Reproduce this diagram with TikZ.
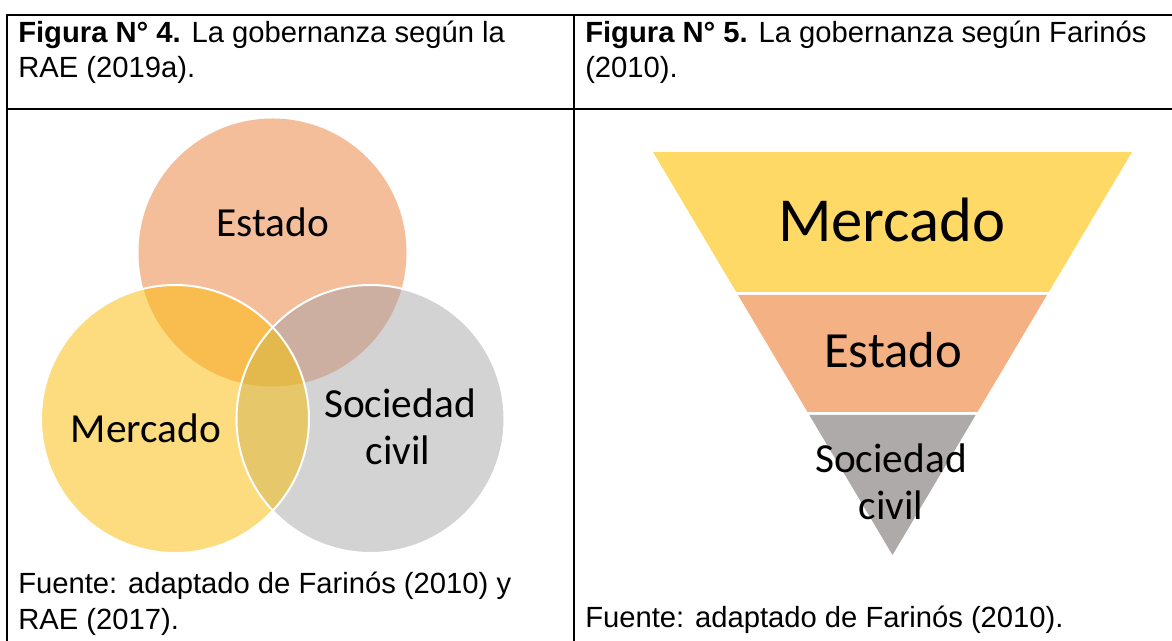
\documentclass[tikz,border=0pt]{standalone}
\usepackage{fontspec}
\setmainfont{Liberation Sans}
\newfontfamily\carl{Carlito}
\definecolor{cE}{HTML}{F5BE9A}
\definecolor{cM}{HTML}{FDDC80}
\definecolor{cS}{HTML}{D3D3D3}
\definecolor{cEM}{HTML}{F8BD4E}
\definecolor{cES}{HTML}{CCAFA0}
\definecolor{cMS}{HTML}{E6C86B}
\definecolor{cEMS}{HTML}{E3B84C}
\definecolor{pM}{HTML}{FFD966}
\definecolor{pE}{HTML}{F4B183}
\definecolor{pS}{HTML}{AEAAAA}
\tikzset{
  tbl/.style={line width=1.5pt, black},
  captxt/.style={inner sep=0pt, anchor=base west, font=\fontsize{21.9}{26}\selectfont},
  vlab/.style={inner sep=0pt, anchor=base, font=\carl\fontsize{31}{36}\selectfont},
  rim/.style={draw=white, line width=1.5pt},
}
\begin{document}
\begin{tikzpicture}[x=0.75pt, y=-0.75pt]
\useasboundingbox (0,0) rectangle (1172,641);
% table
\coordinate (tl) at (7,15);
\coordinate (bl) at (7,641);
\coordinate (tr) at (1172,15);
\coordinate (hl) at (7,109);
\coordinate (hr) at (1172,109);
\coordinate (mt) at (574,15);
\coordinate (mb) at (574,641);
\draw[tbl] (bl) -- (tl) -- (tr);
\draw[tbl] (hl) -- (hr);
\draw[tbl] (mt) -- (mb);
% captions
\node[captxt] (h4a) at (18,43) {\textbf{Figura N° 4.} La gobernanza según la};
\node[captxt] (h4b) at (18,78) {RAE (2019a).};
\node[captxt] (h5a) at (585,43) {\textbf{Figura N° 5.} La gobernanza según Farinós};
\node[captxt] (h5b) at (585,78) {(2010).};
\node[captxt] (f4a) at (18,594) {Fuente: adaptado de Farinós (2010) y};
\node[captxt] (f4b) at (18,629) {RAE (2017).};
\node[captxt] (f5) at (585,628) {Fuente: adaptado de Farinós (2010).};
% Venn
\coordinate (E) at (272.5,252.5);
\coordinate (M) at (175,419);
\coordinate (S) at (370.5,419);
\fill[cE] (E) circle (134);
\fill[cM] (M) circle (134);
\fill[cS] (S) circle (134);
\begin{scope}
  \clip (E) circle (134);
  \fill[cEM] (M) circle (134);
  \fill[cES] (S) circle (134);
\end{scope}
\begin{scope}
  \clip (M) circle (134);
  \fill[cMS] (S) circle (134);
\end{scope}
\begin{scope}
  \clip (E) circle (134);
  \clip (M) circle (134);
  \fill[cEMS] (S) circle (134);
\end{scope}
\draw[rim] (M) circle (134);
\draw[rim] (S) circle (134);
\node[vlab] (vE) at (273,237) {Estado};
\node[vlab] (vM) at (146,443) {Mercado};
\node[vlab] (vS1) at (400,418) {Sociedad};
\node[vlab] (vS2) at (398,465) {civil};
% Pyramid
\fill[pM] (653,152) -- (1132,152) -- (1048.8,292) -- (736.2,292) -- cycle;
\fill[pE] (738,295) -- (1047,295) -- (977.5,412) -- (807.5,412) -- cycle;
\fill[pS] (809.3,415) -- (975.7,415) -- (892.5,555) -- cycle;
\node[inner sep=0pt, anchor=base, font=\carl\fontsize{47}{54}\selectfont] (pMt) at (892,242) {Mercado};
\node[inner sep=0pt, anchor=base, font=\carl\fontsize{38}{44}\selectfont] (pEt) at (893,368) {Estado};
\node[vlab] (pSt1) at (891,473) {Sociedad};
\node[vlab] (pSt2) at (891,520) {civil};
\end{tikzpicture}
\end{document}
